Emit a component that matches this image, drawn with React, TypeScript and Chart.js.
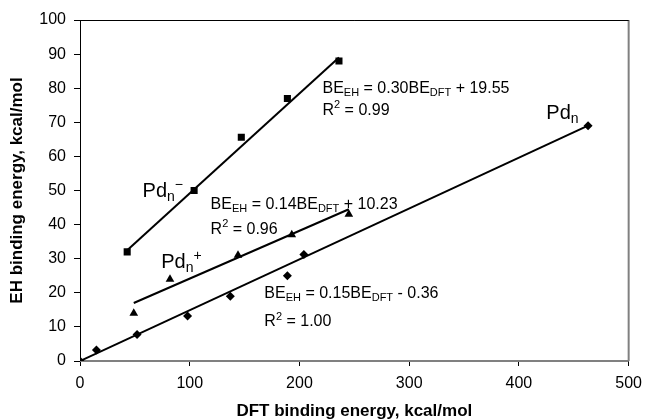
import React, { useEffect, useRef } from "react";
import { Chart, registerables } from "chart.js";

Chart.register(...registerables);

// ---- data ----
const anionDFT = [43, 104, 147, 189, 236];
const anionEH = [32, 50, 65.6, 77, 88];
const cationDFT = [49, 82, 144, 193, 245];
const cationEH = [14, 24, 31, 37, 43];
const neutralDFT = [0, 15, 52, 98, 137, 189, 204, 463];
const neutralEH = [0, 3.2, 7.8, 13.2, 19, 25, 31.2, 69];

const anionFitDFT = [43, 236];
const anionFitEH = [32.5, 89];
const cationFitDFT = [49, 245];
const cationFitEH = [17, 44.5];
const neutralFitDFT = [0, 463];
const neutralFitEH = [0, 69];

const xTickValues = [0, 100, 200, 300, 400, 500];
const yTickValues = [0, 10, 20, 30, 40, 50, 60, 70, 80, 90, 100];

const xTitle = "DFT binding energy, kcal/mol";
const yTitle = "EH binding energy, kcal/mol";

type Run = { t: string; mode?: "sub" | "sup" };
type Label = { x: number; y: number; size: number; runs: Run[] };

const labels: Label[] = [
  { x: 221, y: 80, size: 16, runs: [{ t: "BE" }, { t: "EH", mode: "sub" }, { t: " = 0.30BE" }, { t: "DFT", mode: "sub" }, { t: " + 19.55" }] },
  { x: 221, y: 73.5, size: 16, runs: [{ t: "R" }, { t: "2", mode: "sup" }, { t: " = 0.99" }] },
  { x: 119, y: 46, size: 16, runs: [{ t: "BE" }, { t: "EH", mode: "sub" }, { t: " = 0.14BE" }, { t: "DFT", mode: "sub" }, { t: " + 10.23" }] },
  { x: 119, y: 38.6, size: 16, runs: [{ t: "R" }, { t: "2", mode: "sup" }, { t: " = 0.96" }] },
  { x: 168, y: 19.8, size: 16, runs: [{ t: "BE" }, { t: "EH", mode: "sub" }, { t: " = 0.15BE" }, { t: "DFT", mode: "sub" }, { t: " - 0.36" }] },
  { x: 168, y: 11.5, size: 16, runs: [{ t: "R" }, { t: "2", mode: "sup" }, { t: " = 1.00" }] },
  { x: 57, y: 49.6, size: 20, runs: [{ t: "Pd" }, { t: "n", mode: "sub" }, { t: "\u2212", mode: "sup" }] },
  { x: 74, y: 29, size: 20, runs: [{ t: "Pd" }, { t: "n", mode: "sub" }, { t: "+", mode: "sup" }] },
  { x: 425, y: 72.5, size: 20, runs: [{ t: "Pd" }, { t: "n", mode: "sub" }] },
];

const FONT = "'Liberation Sans', Arial, sans-serif";

function pts(xs: number[], ys: number[]) {
  return xs.map((x, i) => ({ x, y: ys[i] }));
}

const decorPlugin = {
  id: "decor",
  beforeDatasetsDraw(chart: any) {
    const { ctx, chartArea: a } = chart;
    ctx.save();
    ctx.strokeStyle = "#808080";
    ctx.lineWidth = 2;
    ctx.beginPath();
    ctx.moveTo(a.right, a.top);
    ctx.lineTo(a.right, a.bottom);
    ctx.moveTo(a.left, a.bottom);
    ctx.lineTo(a.right, a.bottom);
    ctx.stroke();
    ctx.strokeStyle = "#000";
    ctx.lineWidth = 1;
    ctx.beginPath();
    ctx.moveTo(a.left - 0.5, a.top + 0.5);
    ctx.lineTo(a.right, a.top + 0.5);
    ctx.moveTo(a.left + 0.5, a.top);
    ctx.lineTo(a.left + 0.5, a.bottom);
    ctx.stroke();
    ctx.restore();
  },
  afterDatasetsDraw(chart: any) {
    const { ctx } = chart;
    const xs = chart.scales.x;
    const ys = chart.scales.y;
    ctx.save();
    ctx.fillStyle = "#000";
    ctx.textBaseline = "middle";
    ctx.textAlign = "left";
    for (const lab of labels) {
      let px = xs.getPixelForValue(lab.x);
      const py = ys.getPixelForValue(lab.y);
      for (const r of lab.runs) {
        const small = r.mode ? Math.round(lab.size * 0.68) : lab.size;
        ctx.font = `${small}px ${FONT}`;
        let dy = 0;
        if (r.mode === "sub") dy = lab.size * 0.28;
        if (r.mode === "sup") dy = -lab.size * 0.32;
        ctx.fillText(r.t, px, py + dy);
        px += ctx.measureText(r.t).width;
      }
    }
    ctx.restore();
  },
};

export default function App() {
  const ref = useRef<HTMLCanvasElement | null>(null);

  useEffect(() => {
    document.body.style.margin = "0";
    const canvas = ref.current;
    if (!canvas) return;
    const marker = { showLine: false, borderColor: "#000", backgroundColor: "#000", pointBorderWidth: 0 };
    const fit = {
      type: "line" as const,
      showLine: true,
      borderColor: "#000",
      borderWidth: 2,
      pointRadius: 0,
      fill: false,
    };
    const chart = new Chart(canvas, {
      type: "scatter",
      data: {
        datasets: [
          { ...fit, data: pts(anionFitDFT, anionFitEH) },
          { ...fit, data: pts(cationFitDFT, cationFitEH) },
          { ...fit, data: pts(neutralFitDFT, neutralFitEH) },
          { ...marker, data: pts(anionDFT, anionEH), pointStyle: "rect", pointRadius: 5 },
          { ...marker, data: pts(cationDFT, cationEH), pointStyle: "triangle", pointRadius: 5 },
          { ...marker, data: pts(neutralDFT, neutralEH), pointStyle: "rectRot", pointRadius: 4.5 },
        ] as any,
      },
      options: {
        animation: false,
        responsive: false,
        devicePixelRatio: 1,
        layout: { padding: { top: 20, right: 17, left: 0, bottom: 0 } },
        plugins: { legend: { display: false }, tooltip: { enabled: false } },
        scales: {
          x: {
            type: "linear",
            min: 0,
            max: 500,
            afterBuildTicks: (s: any) => {
              s.ticks = xTickValues.map((v) => ({ value: v }));
            },
            afterFit: (s: any) => {
              s.height = 59;
            },
            border: { display: false },
            grid: { display: true, drawOnChartArea: false, drawTicks: true, tickLength: 5, color: "#000", lineWidth: 1 },
            ticks: { color: "#000", font: { family: FONT, size: 16 }, padding: 8, maxRotation: 0 },
            title: {
              display: true,
              text: xTitle,
              color: "#000",
              font: { family: FONT, size: 17, weight: "bold", lineHeight: 1 },
              padding: { top: 0, bottom: 0 },
            },
          },
          y: {
            type: "linear",
            min: 0,
            max: 100,
            afterBuildTicks: (s: any) => {
              s.ticks = yTickValues.map((v) => ({ value: v }));
            },
            afterFit: (s: any) => {
              s.width = 80;
            },
            border: { display: false },
            grid: { display: true, drawOnChartArea: false, drawTicks: true, tickLength: 6, color: "#000", lineWidth: 1 },
            ticks: { color: "#000", font: { family: FONT, size: 16 }, padding: 8 },
            title: {
              display: true,
              text: yTitle,
              color: "#000",
              font: { family: FONT, size: 17, weight: "bold", lineHeight: 1 },
              padding: { top: 9, bottom: 0 },
            },
          },
        },
      } as any,
      plugins: [decorPlugin],
    });
    return () => chart.destroy();
  }, []);

  return (
    <div style={{ width: 650, height: 420 }}>
      <canvas ref={ref} width={650} height={420} style={{ display: "block" }} />
    </div>
  );
}
